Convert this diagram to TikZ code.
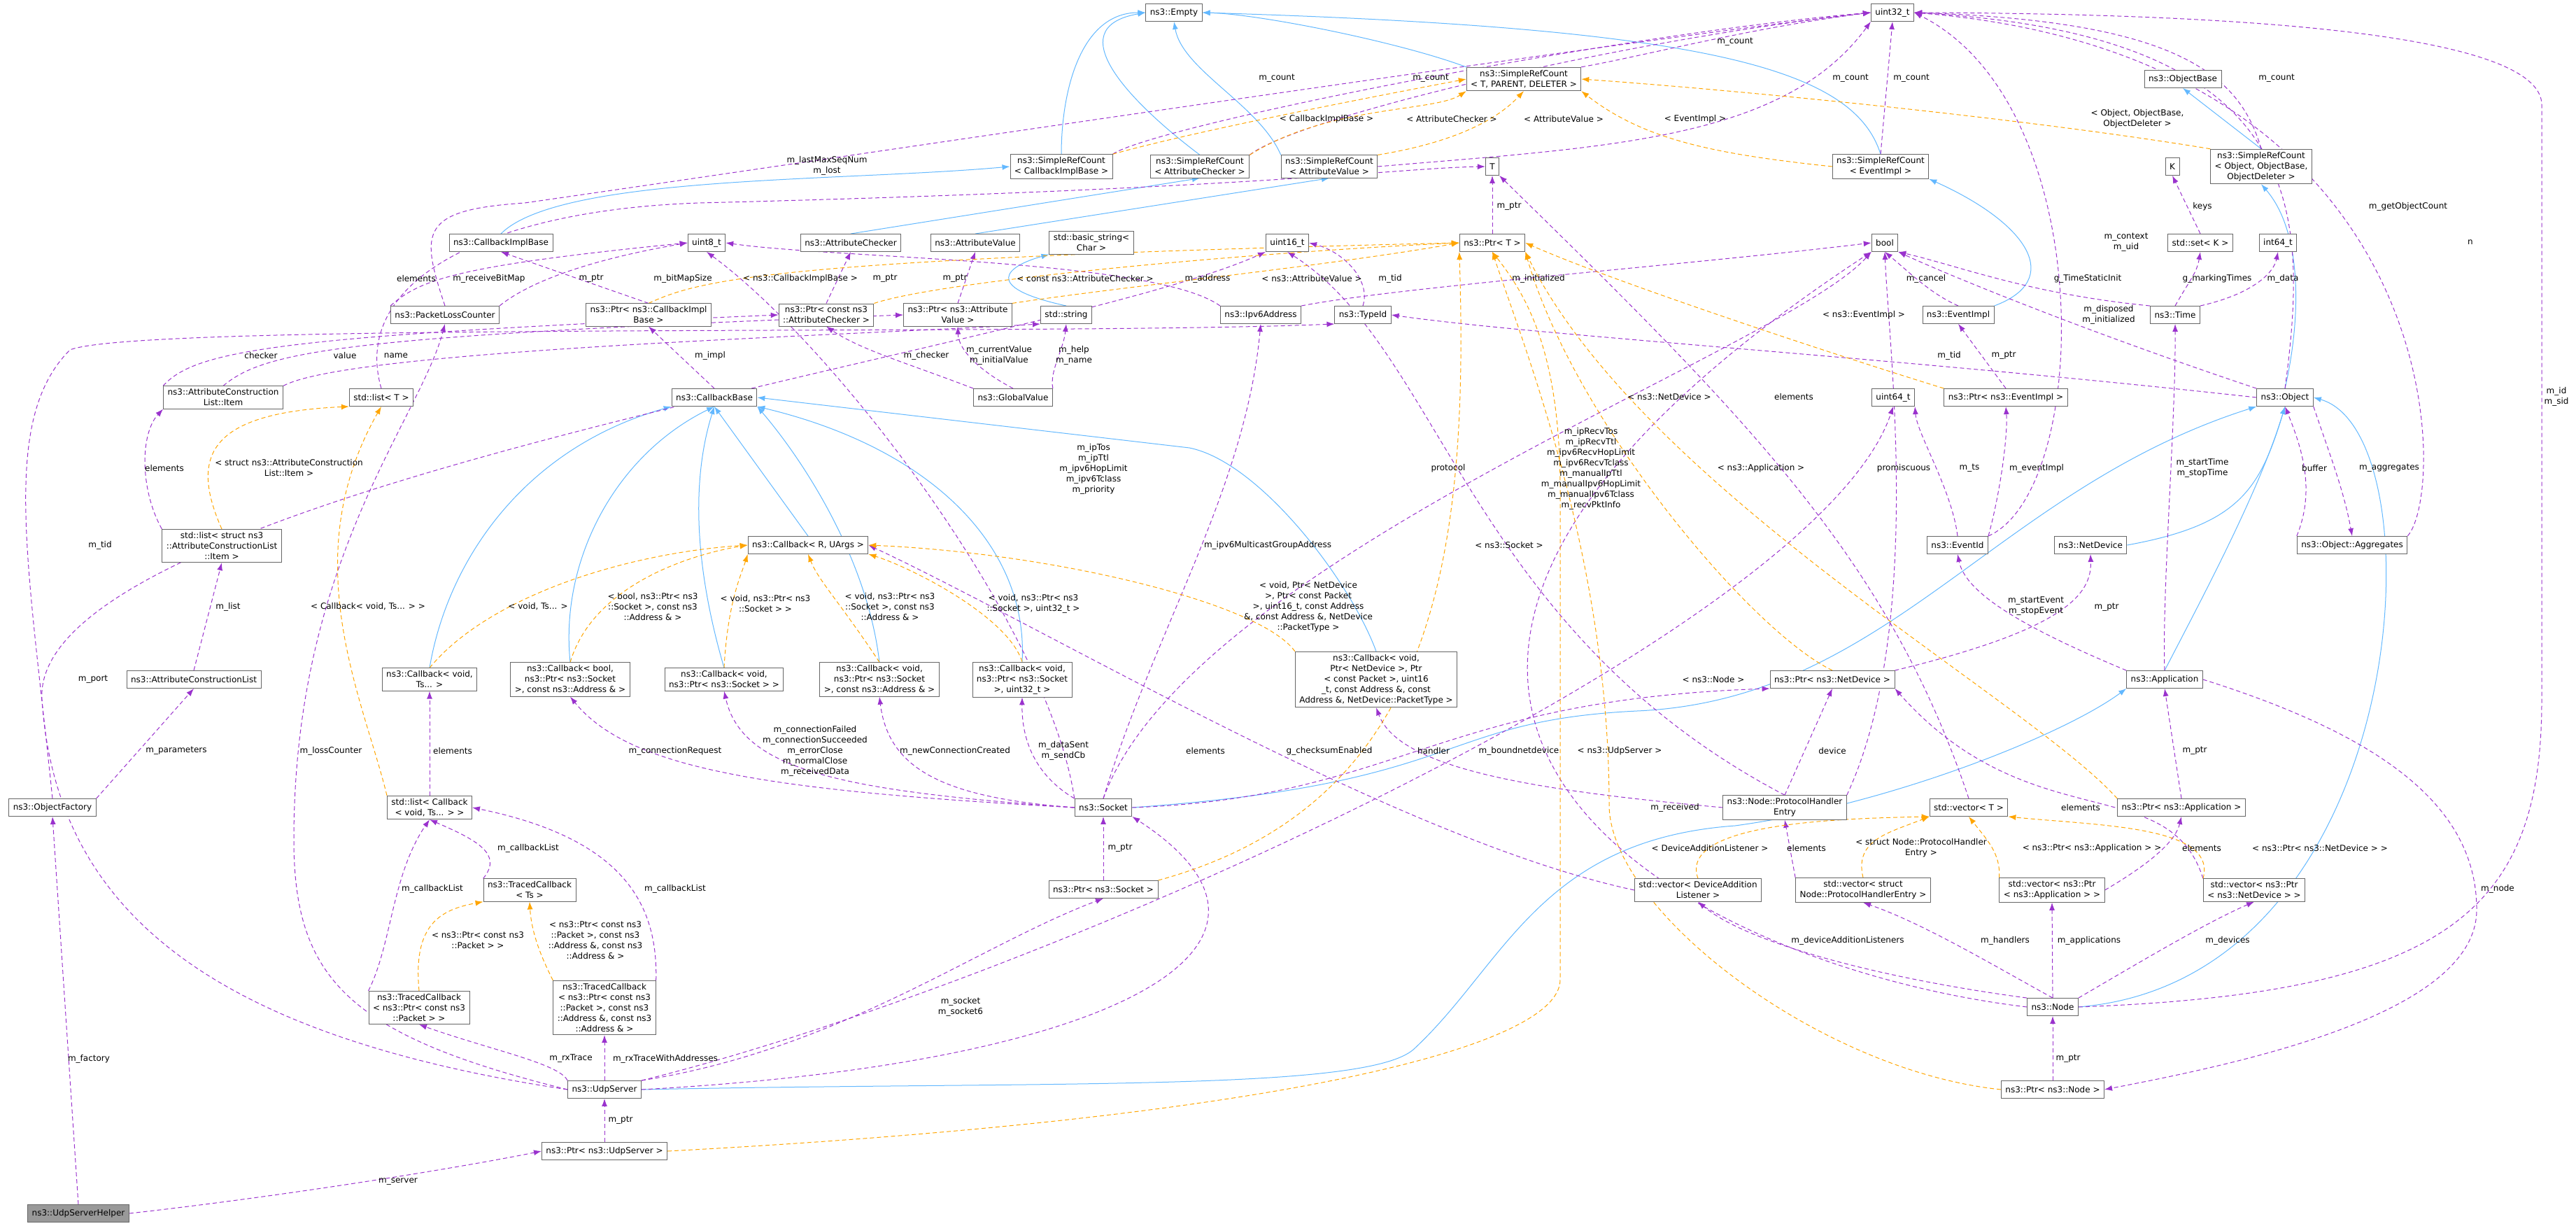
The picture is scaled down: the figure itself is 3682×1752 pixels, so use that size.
\documentclass[tikz,border=0pt]{standalone}
\usepackage{fontspec}
\setmainfont{DejaVu Sans}
\usetikzlibrary{arrows.meta}

\definecolor{inhblue}{HTML}{63B8FF}
\definecolor{memviolet}{HTML}{9A32CD}
\definecolor{tplorange}{HTML}{FFA500}
\pgfdeclarelayer{edges}
\pgfsetlayers{edges,main}

\tikzset{
    cls/.style={draw=black!60, fill=white, line width=0.9pt, inner xsep=6pt, inner ysep=4pt, minimum height=25pt, align=center, font=\fontsize{12}{15}\selectfont},
    helper/.style={cls, fill=black!40},
    lbl/.style={inner sep=1pt, align=center, font=\fontsize{12}{15}\selectfont},
    inh/.style={-{Latex[length=11pt,width=8pt]}, draw=inhblue, line width=1pt},
    mem/.style={-{Latex[length=11pt,width=8pt]}, draw=memviolet, line width=1pt, dash pattern=on 6pt off 4pt},
    tpl/.style={-{Latex[length=11pt,width=8pt]}, draw=tplorange, line width=1pt, dash pattern=on 6pt off 4pt},
}

\begin{document}
\begin{tikzpicture}[x=1pt, y=-1pt]
    \useasboundingbox (0,0) rectangle (3682,1752);
    % classes, row by row
    \node[cls] (empty) at (1678,18) {ns3::Empty};
    \node[cls] (u32) at (2705,18) {uint32\_t};
    \node[cls] (srcTPD) at (2178,113) {ns3::SimpleRefCount\\< T, PARENT, DELETER >};
    \node[cls] (objbase) at (3120,113) {ns3::ObjectBase};
    \node[cls] (srcCIB) at (1517,238) {ns3::SimpleRefCount\\< CallbackImplBase >};
    \node[cls] (srcAC) at (1715,238) {ns3::SimpleRefCount\\< AttributeChecker >};
    \node[cls] (srcAV) at (1900,238) {ns3::SimpleRefCount\\< AttributeValue >};
    \node[cls] (tt) at (2133,238) {T};
    \node[cls] (srcEI) at (2688,238) {ns3::SimpleRefCount\\< EventImpl >};
    \node[cls] (kk) at (3105,238) {K};
    \node[cls] (srcObj) at (3232,238) {ns3::SimpleRefCount\\< Object, ObjectBase,\\ObjectDeleter >};
    \node[cls] (cbimpl) at (716,347) {ns3::CallbackImplBase};
    \node[cls] (u8) at (1010,347) {uint8\_t};
    \node[cls] (attrchk) at (1216,347) {ns3::AttributeChecker};
    \node[cls] (attrval) at (1394,347) {ns3::AttributeValue};
    \node[cls] (bstring) at (1560,347) {std::basic\_string<\\Char >};
    \node[cls] (u16) at (1840,347) {uint16\_t};
    \node[cls] (ptrT) at (2133,347) {ns3::Ptr< T >};
    \node[cls] (bool) at (2694,347) {bool};
    \node[cls] (setK) at (3145,347) {std::set< K >};
    \node[cls] (i64) at (3256,347) {int64\_t};
    \node[cls] (plc) at (636,450) {ns3::PacketLossCounter};
    \node[cls] (ptrCIB) at (927,450) {ns3::Ptr< ns3::CallbackImpl\\Base >};
    \node[cls] (ptrAC) at (1181,450) {ns3::Ptr< const ns3\\::AttributeChecker >};
    \node[cls] (ptrAV) at (1369,450) {ns3::Ptr< ns3::Attribute\\Value >};
    \node[cls] (sstring) at (1524,450) {std::string};
    \node[cls] (ipv6) at (1802,450) {ns3::Ipv6Address};
    \node[cls] (typeid) at (1948,450) {ns3::TypeId};
    \node[cls] (eventimpl) at (2799,450) {ns3::EventImpl};
    \node[cls] (time) at (3109,450) {ns3::Time};
    \node[cls] (item) at (319,568) {ns3::AttributeConstruction\\List::Item};
    \node[cls] (listT) at (545,568) {std::list< T >};
    \node[cls] (cbbase) at (1021,568) {ns3::CallbackBase};
    \node[cls] (gvalue) at (1448,568) {ns3::GlobalValue};
    \node[cls] (u64) at (2706,568) {uint64\_t};
    \node[cls] (ptrEI) at (2867,568) {ns3::Ptr< ns3::EventImpl >};
    \node[cls] (object) at (3266,568) {ns3::Object};
    \node[cls] (listItem) at (317,780) {std::list< struct ns3\\::AttributeConstructionList\\::Item >};
    \node[cls] (cbRU) at (1155,779) {ns3::Callback< R, UArgs >};
    \node[cls] (evid) at (2798,779) {ns3::EventId};
    \node[cls] (netdev) at (2988,779) {ns3::NetDevice};
    \node[cls] (aggr) at (3362,779) {ns3::Object::Aggregates};
    \node[cls] (acl) at (277,971) {ns3::AttributeConstructionList};
    \node[cls] (cbVT) at (614,971) {ns3::Callback< void,\\Ts... >};
    \node[cls] (cbB) at (815,971) {ns3::Callback< bool,\\ns3::Ptr< ns3::Socket\\>, const ns3::Address \& >};
    \node[cls] (cbS) at (1035,971) {ns3::Callback< void,\\ns3::Ptr< ns3::Socket > >};
    \node[cls] (cbSA) at (1257,971) {ns3::Callback< void,\\ns3::Ptr< ns3::Socket\\>, const ns3::Address \& >};
    \node[cls] (cbSU) at (1461,971) {ns3::Callback< void,\\ns3::Ptr< ns3::Socket\\>, uint32\_t >};
    \node[cls] (cbND) at (1967,971) {ns3::Callback< void,\\Ptr< NetDevice >, Ptr\\< const Packet >, uint16\\\_t, const Address \&, const\\Address \&, NetDevice::PacketType >};
    \node[cls] (ptrND) at (2619,971) {ns3::Ptr< ns3::NetDevice >};
    \node[cls] (app) at (3094,971) {ns3::Application};
    \node[cls] (ofac) at (75,1154) {ns3::ObjectFactory};
    \node[cls] (listCB) at (614,1154) {std::list< Callback\\< void, Ts... > >};
    \node[cls] (socket) at (1577,1154) {ns3::Socket};
    \node[cls] (phe) at (2551,1154) {ns3::Node::ProtocolHandler\\Entry};
    \node[cls] (vecT) at (2814,1154) {std::vector< T >};
    \node[cls] (ptrApp) at (3118,1154) {ns3::Ptr< ns3::Application >};
    \node[cls] (tcTs) at (757,1272) {ns3::TracedCallback\\< Ts >};
    \node[cls] (ptrSock) at (1577,1271) {ns3::Ptr< ns3::Socket >};
    \node[cls] (vecDAL) at (2427,1272) {std::vector< DeviceAddition\\Listener >};
    \node[cls] (vecPHE) at (2663,1272) {std::vector< struct\\Node::ProtocolHandlerEntry >};
    \node[cls] (vecApp) at (2933,1272) {std::vector< ns3::Ptr\\< ns3::Application > >};
    \node[cls] (vecND) at (3222,1272) {std::vector< ns3::Ptr\\< ns3::NetDevice > >};
    \node[cls] (tcP) at (599,1440) {ns3::TracedCallback\\< ns3::Ptr< const ns3\\::Packet > >};
    \node[cls] (tcPA) at (864,1440) {ns3::TracedCallback\\< ns3::Ptr< const ns3\\::Packet >, const ns3\\::Address \&, const ns3\\::Address \& >};
    \node[cls] (node) at (2934,1439) {ns3::Node};
    \node[cls] (udp) at (864,1557) {ns3::UdpServer};
    \node[cls] (ptrNode) at (2934,1557) {ns3::Ptr< ns3::Node >};
    \node[cls] (ptrUdp) at (864,1645) {ns3::Ptr< ns3::UdpServer >};
    \node[helper] (helper) at (112,1734) {ns3::UdpServerHelper};

    \begin{pgfonlayer}{edges}
    % inheritance
    \draw[inh] (srcCIB.north) to[out=90,in=180] (empty.west);
    \draw[inh] (srcAC.north) .. controls (1620,150) and (1510,40) .. (empty.west);
    \draw[inh] (srcAV.north west) .. controls (1800,150) and (1690,100) .. (empty.south);
    \draw[inh] (srcTPD.north west) .. controls (2000,60) and (1800,20) .. (empty.east);
    \draw[inh] (srcEI.north) .. controls (2650,100) and (2450,40) .. (empty.east);
    \draw[inh] (cbimpl.north) .. controls (800,250) and (1200,260) .. (srcCIB.west);
    \draw[inh] (attrchk.north) -- (srcAC.south);
    \draw[inh] (attrval.north) -- (srcAV.south);
    \draw[inh] (sstring.north) .. controls (1400,410) and (1440,380) .. (bstring.south west);
    \draw[inh] (eventimpl.north east) .. controls (2950,400) and (2900,320) .. (srcEI.south east);
    \draw[inh] (srcObj.north) -- (objbase.south);
    \draw[inh] (object.north) .. controls (3290,450) and (3290,330) .. (srcObj.south);
    \draw[inh] (cbVT.north) .. controls (640,800) and (750,640) .. (cbbase.south west);
    \draw[inh] (cbB.north) .. controls (800,800) and (880,650) .. (cbbase.south);
    \draw[inh] (cbS.north) .. controls (990,800) and (990,680) .. (cbbase.south);
    \draw[inh] (cbSA.north) .. controls (1240,800) and (1150,660) .. (cbbase.south east);
    \draw[inh] (cbSU.north) .. controls (1470,780) and (1330,640) .. (cbbase.south east);
    \draw[inh] (cbRU.north) -- (cbbase.south);
    \draw[inh] (cbND.north) .. controls (1930,830) and (1800,660) .. (1700,640) -- (cbbase.east);
    \draw[inh] (socket.east) .. controls (2100,1120) and (2050,1030) .. (2340,1016) .. controls (2700,1000) and (2850,700) .. (object.south west);
    \draw[inh] (netdev.east) .. controls (3200,750) and (3230,700) .. (object.south);
    \draw[inh] (app.north) .. controls (3150,850) and (3230,700) .. (object.south);
    \draw[inh] (node.east) .. controls (3450,1400) and (3490,620) .. (object.east);
    \draw[inh] (udp.east) .. controls (1500,1545) and (1950,1560) .. (2020,1500) .. controls (2150,1380) and (2200,1200) .. (2480,1180) .. controls (2700,1150) and (2950,1050) .. (app.south west);

    % members
    \draw[mem] (srcCIB.north east) .. controls (1650,180) and (2300,50) .. (u32.west);
    \draw[mem] (srcAC.north east) .. controls (1850,170) and (2300,60) .. (u32.west);
    \draw[mem] (srcAV.east) .. controls (2300,210) and (2550,200) .. (u32.south west);
    \draw[mem] (srcTPD.north east) .. controls (2350,80) and (2500,40) .. (u32.west);
    \draw[mem] (srcEI.north) -- (u32.south);
    \draw[mem] (srcObj.north) .. controls (3200,100) and (3100,30) .. (u32.east);
    \draw[mem] (plc.north) .. controls (600,330) and (600,300) .. (750,290) .. controls (1100,240) and (2300,60) .. (u32.west);
    \draw[mem] (evid.north east) .. controls (2990,700) and (3000,150) .. (u32.east);
    \draw[mem] (object.north) .. controls (3300,300) and (3300,50) .. (u32.east);
    \draw[mem] (aggr.north east) .. controls (3500,700) and (3500,80) .. (u32.east);
    \draw[mem] (node.east) .. controls (3500,1420) and (3633,1300) .. (3633,1000) -- (3633,150) .. controls (3633,60) and (3300,20) .. (u32.east);
    \draw[mem] (listT.north) .. controls (500,400) and (700,300) .. (1000,290) .. controls (1800,270) and (2000,240) .. (tt.west);
    \draw[mem] (plc.north west) .. controls (600,400) and (650,380) .. (u8.west);
    \draw[mem] (plc.north east) .. controls (760,400) and (850,370) .. (u8.west);
    \draw[mem] (ptrCIB.north) -- (cbimpl.south);
    \draw[mem] (ptrAC.north) -- (attrchk.south);
    \draw[mem] (ptrAV.north) -- (attrval.south);
    \draw[mem] (ipv6.north west) .. controls (1650,370) and (1200,370) .. (u8.east);
    \draw[mem] (typeid.north) .. controls (1960,400) and (1920,360) .. (u16.east);
    \draw[mem] (ipv6.north east) .. controls (2000,410) and (2400,380) .. (bool.west);
    \draw[mem] (ptrT.north) -- (tt.south);
    \draw[mem] (eventimpl.north) .. controls (2760,420) and (2730,390) .. (bool.south);
    \draw[mem] (time.north west) .. controls (2900,420) and (2800,380) .. (bool.south east);
    \draw[mem] (setK.north) -- (kk.south);
    \draw[mem] (time.north) .. controls (3130,400) and (3140,390) .. (setK.south);
    \draw[mem] (time.north east) .. controls (3220,420) and (3250,390) .. (i64.south);
    \draw[mem] (object.north west) .. controls (3000,480) and (2800,400) .. (bool.south east);
    \draw[mem] (object.west) .. controls (2700,510) and (2200,480) .. (typeid.east);
    \draw[mem] (ptrEI.north) -- (eventimpl.south);
    \draw[mem] (vecT.north) .. controls (2700,800) and (2500,600) .. (tt.south east);
    \draw[mem] (socket.north) .. controls (1700,800) and (2550,500) .. (bool.south west);
    \draw[mem] (phe.north) .. controls (2100,900) and (2060,500) .. (u16.south);
    \draw[mem] (phe.north east) .. controls (2750,900) and (2700,500) .. (bool.south);
    \draw[mem] (evid.north) .. controls (2790,700) and (2740,620) .. (u64.south east);
    \draw[mem] (evid.north east) .. controls (2860,700) and (2870,620) .. (ptrEI.south);
    \draw[mem] (app.north) .. controls (3090,850) and (3110,600) .. (time.south);
    \draw[mem] (aggr.north west) .. controls (3310,700) and (3290,640) .. (object.south);
    \draw[mem] (object.south east) .. controls (3330,650) and (3350,700) .. (aggr.north);
    \draw[mem] (socket.north) .. controls (1650,900) and (1780,700) .. (ipv6.south);
    \draw[mem] (socket.north west) .. controls (1500,900) and (1200,500) .. (u8.south);
    \draw[mem] (item.north west) .. controls (280,500) and (400,480) .. (ptrAC.west);
    \draw[mem] (item.north) .. controls (380,500) and (500,480) .. (ptrAV.west);
    \draw[mem] (item.north east) .. controls (500,500) and (1200,480) .. (sstring.south west);
    \draw[mem] (cbbase.north) -- (ptrCIB.south);
    \draw[mem] (gvalue.north west) .. controls (1300,520) and (1230,500) .. (ptrAC.south);
    \draw[mem] (gvalue.north) .. controls (1400,530) and (1370,500) .. (ptrAV.south);
    \draw[mem] (gvalue.north east) .. controls (1500,530) and (1520,500) .. (sstring.south);
    \draw[mem] (listItem.north west) .. controls (200,700) and (200,620) .. (item.south west);
    \draw[mem] (ofac.north) .. controls (40,800) and (0,600) .. (100,500) .. controls (200,460) and (1500,480) .. (typeid.south west);
    \draw[mem] (acl.north) -- (listItem.south);
    \draw[mem] (udp.west) .. controls (300,1480) and (80,1300) .. (60,1000) .. controls (40,700) and (1500,500) .. (u16.south west);
    \draw[mem] (ofac.north east) -- (acl.south);
    \draw[mem] (udp.west) .. controls (500,1480) and (420,1400) .. (420,1200) .. controls (420,800) and (600,600) .. (plc.south);
    \draw[mem] (listCB.north) -- (cbVT.south);
    \draw[mem] (socket.west) .. controls (1100,1130) and (900,1100) .. (cbB.south);
    \draw[mem] (socket.west) .. controls (1200,1130) and (1060,1100) .. (cbS.south);
    \draw[mem] (socket.west) .. controls (1350,1140) and (1270,1100) .. (cbSA.south);
    \draw[mem] (socket.north west) .. controls (1500,1120) and (1460,1080) .. (cbSU.south);
    \draw[mem] (vecDAL.west) .. controls (2000,1200) and (1500,900) .. (cbRU.east);
    \draw[mem] (node.west) .. controls (2400,1380) and (1700,1000) .. (bool.south west);
    \draw[mem] (phe.west) .. controls (2200,1130) and (2000,1100) .. (cbND.south);
    \draw[mem] (socket.east) .. controls (2000,1140) and (2050,1000) .. (ptrND.south west);
    \draw[mem] (phe.north) -- (ptrND.south);
    \draw[mem] (ptrApp.north) -- (app.south);
    \draw[mem] (app.north west) .. controls (2900,900) and (2810,850) .. (evid.south);
    \draw[mem] (ptrND.north east) .. controls (2950,900) and (2990,850) .. (netdev.south);
    \draw[mem] (udp.north east) .. controls (1500,1400) and (2600,900) .. (u64.south);
    \draw[mem] (vecPHE.north west) -- (phe.south);
    \draw[mem] (vecND.north west) .. controls (3100,1100) and (2900,1200) .. (ptrND.south east);
    \draw[mem] (vecApp.east) .. controls (3080,1230) and (3110,1200) .. (ptrApp.south);
    \draw[mem] (node.north west) .. controls (2700,1400) and (2500,1350) .. (vecDAL.south);
    \draw[mem] (node.north) .. controls (2850,1380) and (2750,1320) .. (vecPHE.south);
    \draw[mem] (node.north) -- (vecApp.south);
    \draw[mem] (node.north east) .. controls (3050,1380) and (3150,1320) .. (vecND.south);
    \draw[mem] (app.east) .. controls (3400,1050) and (3540,1150) .. (3540,1300) .. controls (3540,1450) and (3200,1520) .. (ptrNode.east);
    \draw[mem] (ptrNode.north) -- (node.south);
    \draw[mem] (tcTs.north west) .. controls (720,1220) and (680,1200) .. (listCB.south);
    \draw[mem] (tcP.north west) .. controls (560,1350) and (560,1250) .. (listCB.south);
    \draw[mem] (tcPA.north east) .. controls (940,1300) and (900,1200) .. (listCB.east);
    \draw[mem] (udp.north east) .. controls (1200,1500) and (1400,1350) .. (ptrSock.south);
    \draw[mem] (udp.east) .. controls (1600,1520) and (1900,1350) .. (socket.south east);
    \draw[mem] (udp.north west) .. controls (800,1520) and (700,1500) .. (tcP.south);
    \draw[mem] (udp.north) -- (tcPA.south);
    \draw[mem] (ptrSock.north) -- (socket.south);
    \draw[mem] (ptrUdp.north) -- (udp.south);
    \draw[mem] (helper.east) .. controls (400,1710) and (650,1670) .. (ptrUdp.west);
    \draw[mem] (helper.north) -- (ofac.south);

    % template instances
    \draw[tpl] (srcCIB.north east) .. controls (1700,190) and (1900,150) .. (srcTPD.west);
    \draw[tpl] (srcAC.north east) .. controls (1900,150) and (2050,160) .. (srcTPD.south west);
    \draw[tpl] (srcAV.north east) .. controls (2100,200) and (2150,160) .. (srcTPD.south);
    \draw[tpl] (srcEI.west) .. controls (2450,220) and (2350,200) .. (srcTPD.south east);
    \draw[tpl] (srcObj.north west) .. controls (2900,170) and (2500,130) .. (srcTPD.east);
    \draw[tpl] (ptrCIB.north) .. controls (1000,400) and (1100,370) .. (ptrT.west);
    \draw[tpl] (ptrAC.north east) .. controls (1350,400) and (1800,360) .. (ptrT.west);
    \draw[tpl] (ptrAV.north east) .. controls (1600,410) and (1900,380) .. (ptrT.west);
    \draw[tpl] (ptrEI.north west) .. controls (2600,500) and (2300,400) .. (ptrT.east);
    \draw[tpl] (ptrND.north) .. controls (2500,900) and (2250,600) .. (ptrT.south east);
    \draw[tpl] (ptrApp.north west) .. controls (2900,1000) and (2350,700) .. (ptrT.south east);
    \draw[tpl] (ptrSock.north east) .. controls (2050,1150) and (2100,800) .. (ptrT.south west);
    \draw[tpl] (ptrUdp.east) .. controls (1800,1600) and (2230,1500) .. (2230,1400) -- (2230,700) .. controls (2230,500) and (2180,420) .. (ptrT.south);
    \draw[tpl] (ptrNode.west) .. controls (2600,1530) and (2300,1300) .. (2300,1150) .. controls (2300,800) and (2180,500) .. (ptrT.south);
    \draw[tpl] (listItem.north) .. controls (270,650) and (300,590) .. (listT.south west);
    \draw[tpl] (listCB.north west) .. controls (520,1000) and (420,800) .. (listT.south);
    \draw[tpl] (cbVT.north) .. controls (700,850) and (900,790) .. (cbRU.west);
    \draw[tpl] (cbB.north) .. controls (850,830) and (1000,790) .. (cbRU.west);
    \draw[tpl] (cbS.north) .. controls (1040,860) and (1060,820) .. (cbRU.south west);
    \draw[tpl] (cbSA.north) .. controls (1200,860) and (1170,830) .. (cbRU.south);
    \draw[tpl] (cbSU.north) .. controls (1440,880) and (1300,810) .. (cbRU.south east);
    \draw[tpl] (cbND.north west) .. controls (1800,860) and (1500,790) .. (cbRU.east);
    \draw[tpl] (tcP.north) .. controls (590,1320) and (630,1300) .. (tcTs.south west);
    \draw[tpl] (tcPA.north west) .. controls (780,1380) and (760,1340) .. (tcTs.south);
    \draw[tpl] (vecDAL.north) .. controls (2400,1180) and (2600,1170) .. (vecT.south west);
    \draw[tpl] (vecPHE.north) .. controls (2650,1200) and (2700,1190) .. (vecT.south west);
    \draw[tpl] (vecApp.north west) .. controls (2860,1220) and (2840,1200) .. (vecT.south);
    \draw[tpl] (vecND.north west) .. controls (3170,1180) and (3000,1180) .. (vecT.south east);
    \end{pgfonlayer}

    % labels
    \node[lbl] (l1) at (1825,112) {m\_count};
    \node[lbl] (l2) at (2045,112) {m\_count};
    \node[lbl] (l3) at (2480,60) {m\_count};
    \node[lbl] (l4) at (2645,112) {m\_count};
    \node[lbl] (l5) at (2732,112) {m\_count};
    \node[lbl] (l6) at (3254,112) {m\_count};
    \node[lbl] (l7) at (1896,170) {< CallbackImplBase >};
    \node[lbl] (l8) at (2075,170) {< AttributeChecker >};
    \node[lbl] (l9) at (2235,170) {< AttributeValue >};
    \node[lbl] (l10) at (2423,170) {< EventImpl >};
    \node[lbl] (l11) at (3055,170) {< Object, ObjectBase,\\ObjectDeleter >};
    \node[lbl] (l12) at (1182,237) {m\_lastMaxSeqNum\\m\_lost};
    \node[lbl] (l13) at (2157,295) {m\_ptr};
    \node[lbl] (l14) at (3148,295) {keys};
    \node[lbl] (l15) at (3442,295) {m\_getObjectCount};
    \node[lbl] (l16) at (3039,346) {m\_context\\m\_uid};
    \node[lbl] (l17) at (3531,346) {n};
    \node[lbl] (l18) at (595,398) {elements};
    \node[lbl] (l19) at (699,398) {m\_receiveBitMap};
    \node[lbl] (l20) at (845,398) {m\_ptr};
    \node[lbl] (l21) at (976,398) {m\_bitMapSize};
    \node[lbl] (l22) at (1144,398) {< ns3::CallbackImplBase >};
    \node[lbl] (l23) at (1265,398) {m\_ptr};
    \node[lbl] (l24) at (1365,398) {m\_ptr};
    \node[lbl] (l25) at (1551,398) {< const ns3::AttributeChecker >};
    \node[lbl] (l26) at (1726,398) {m\_address};
    \node[lbl] (l27) at (1875,398) {< ns3::AttributeValue >};
    \node[lbl] (l28) at (1987,398) {m\_tid};
    \node[lbl] (l29) at (2199,398) {m\_initialized};
    \node[lbl] (l30) at (2753,398) {m\_cancel};
    \node[lbl] (l31) at (2984,398) {g\_TimeStaticInit};
    \node[lbl] (l32) at (3169,398) {g\_markingTimes};
    \node[lbl] (l33) at (3263,398) {m\_data};
    \node[lbl] (l34) at (2664,450) {< ns3::EventImpl >};
    \node[lbl] (l35) at (3014,450) {m\_disposed\\m\_initialized};
    \node[lbl] (l36) at (373,508) {checker};
    \node[lbl] (l37) at (493,508) {value};
    \node[lbl] (l38) at (566,508) {name};
    \node[lbl] (l39) at (1015,508) {m\_impl};
    \node[lbl] (l40) at (1324,508) {m\_checker};
    \node[lbl] (l41) at (1428,508) {m\_currentValue\\m\_initialValue};
    \node[lbl] (l42) at (1535,508) {m\_help\\m\_name};
    \node[lbl] (l43) at (2786,508) {m\_tid};
    \node[lbl] (l44) at (2864,508) {m\_ptr};
    \node[lbl] (l45) at (2386,567) {< ns3::NetDevice >};
    \node[lbl] (l46) at (2564,567) {elements};
    \node[lbl] (l47) at (3654,567) {m\_id\\m\_sid};
    \node[lbl] (l48) at (235,669) {elements};
    \node[lbl] (l49) at (413,669) {< struct ns3::AttributeConstruction\\List::Item >};
    \node[lbl] (l50) at (1563,670) {m\_ipTos\\m\_ipTtl\\m\_ipv6HopLimit\\m\_ipv6Tclass\\m\_priority};
    \node[lbl] (l51) at (2070,669) {protocol};
    \node[lbl] (l52) at (2274,670) {m\_ipRecvTos\\m\_ipRecvTtl\\m\_ipv6RecvHopLimit\\m\_ipv6RecvTclass\\m\_manualIpTtl\\m\_manualIpv6HopLimit\\m\_manualIpv6Tclass\\m\_recvPktInfo};
    \node[lbl] (l53) at (2517,669) {< ns3::Application >};
    \node[lbl] (l54) at (2721,669) {promiscuous};
    \node[lbl] (l55) at (2815,669) {m\_ts};
    \node[lbl] (l56) at (2911,669) {m\_eventImpl};
    \node[lbl] (l57) at (3148,669) {m\_startTime\\m\_stopTime};
    \node[lbl] (l58) at (3308,669) {buffer};
    \node[lbl] (l59) at (3415,669) {m\_aggregates};
    \node[lbl] (l60) at (143,779) {m\_tid};
    \node[lbl] (l61) at (1812,779) {m\_ipv6MulticastGroupAddress};
    \node[lbl] (l62) at (2157,779) {< ns3::Socket >};
    \node[lbl] (l63) at (326,867) {m\_list};
    \node[lbl] (l64) at (526,867) {< Callback< void, Ts... > >};
    \node[lbl] (l65) at (769,867) {< void, Ts... >};
    \node[lbl] (l66) at (933,867) {< bool, ns3::Ptr< ns3\\::Socket >, const ns3\\::Address \& >};
    \node[lbl] (l67) at (1094,863) {< void, ns3::Ptr< ns3\\::Socket > >};
    \node[lbl] (l68) at (1272,867) {< void, ns3::Ptr< ns3\\::Socket >, const ns3\\::Address \& >};
    \node[lbl] (l69) at (1477,863) {< void, ns3::Ptr< ns3\\::Socket >, uint32\_t >};
    \node[lbl] (l70) at (1870,867) {< void, Ptr< NetDevice\\>, Ptr< const Packet\\>, uint16\_t, const Address\\\&, const Address \&, NetDevice\\::PacketType >};
    \node[lbl] (l71) at (2910,866) {m\_startEvent\\m\_stopEvent};
    \node[lbl] (l72) at (3011,868) {m\_ptr};
    \node[lbl] (l73) at (133,971) {m\_port};
    \node[lbl] (l74) at (2449,971) {< ns3::Node >};
    \node[lbl] (l75) at (252,1073) {m\_parameters};
    \node[lbl] (l76) at (473,1073) {m\_lossCounter};
    \node[lbl] (l77) at (647,1073) {elements};
    \node[lbl] (l78) at (965,1073) {m\_connectionRequest};
    \node[lbl] (l79) at (1165,1073) {m\_connectionFailed\\m\_connectionSucceeded\\m\_errorClose\\m\_normalClose\\m\_receivedData};
    \node[lbl] (l80) at (1365,1073) {m\_newConnectionCreated};
    \node[lbl] (l81) at (1520,1073) {m\_dataSent\\m\_sendCb};
    \node[lbl] (l82) at (1723,1073) {elements};
    \node[lbl] (l83) at (1900,1073) {g\_checksumEnabled};
    \node[lbl] (l84) at (2049,1073) {handler};
    \node[lbl] (l85) at (2171,1073) {m\_boundnetdevice};
    \node[lbl] (l86) at (2315,1073) {< ns3::UdpServer >};
    \node[lbl] (l87) at (2619,1073) {device};
    \node[lbl] (l88) at (3137,1073) {m\_ptr};
    \node[lbl] (l89) at (2394,1154) {m\_received};
    \node[lbl] (l90) at (2974,1154) {elements};
    \node[lbl] (l91) at (755,1212) {m\_callbackList};
    \node[lbl] (l92) at (1601,1212) {m\_ptr};
    \node[lbl] (l93) at (2444,1212) {< DeviceAdditionListener >};
    \node[lbl] (l94) at (2582,1212) {elements};
    \node[lbl] (l95) at (2746,1212) {< struct Node::ProtocolHandler\\Entry >};
    \node[lbl] (l96) at (2990,1212) {< ns3::Ptr< ns3::Application > >};
    \node[lbl] (l97) at (3147,1212) {elements};
    \node[lbl] (l98) at (3316,1212) {< ns3::Ptr< ns3::NetDevice > >};
    \node[lbl] (l99) at (618,1270) {m\_callbackList};
    \node[lbl] (l100) at (965,1270) {m\_callbackList};
    \node[lbl] (l101) at (3570,1270) {m\_node};
    \node[lbl] (l102) at (683,1344) {< ns3::Ptr< const ns3\\::Packet > >};
    \node[lbl] (l103) at (851,1344) {< ns3::Ptr< const ns3\\::Packet >, const ns3\\::Address \&, const ns3\\::Address \& >};
    \node[lbl] (l104) at (2641,1344) {m\_deviceAdditionListeners};
    \node[lbl] (l105) at (2866,1344) {m\_handlers};
    \node[lbl] (l106) at (2986,1344) {m\_applications};
    \node[lbl] (l107) at (3184,1344) {m\_devices};
    \node[lbl] (l108) at (1373,1439) {m\_socket\\m\_socket6};
    \node[lbl] (l109) at (127,1513) {m\_factory};
    \node[lbl] (l110) at (816,1513) {m\_rxTrace};
    \node[lbl] (l111) at (951,1513) {m\_rxTraceWithAddresses};
    \node[lbl] (l112) at (2956,1513) {m\_ptr};
    \node[lbl] (l113) at (887,1601) {m\_ptr};
    \node[lbl] (l114) at (569,1689) {m\_server};
\end{tikzpicture}
\end{document}
